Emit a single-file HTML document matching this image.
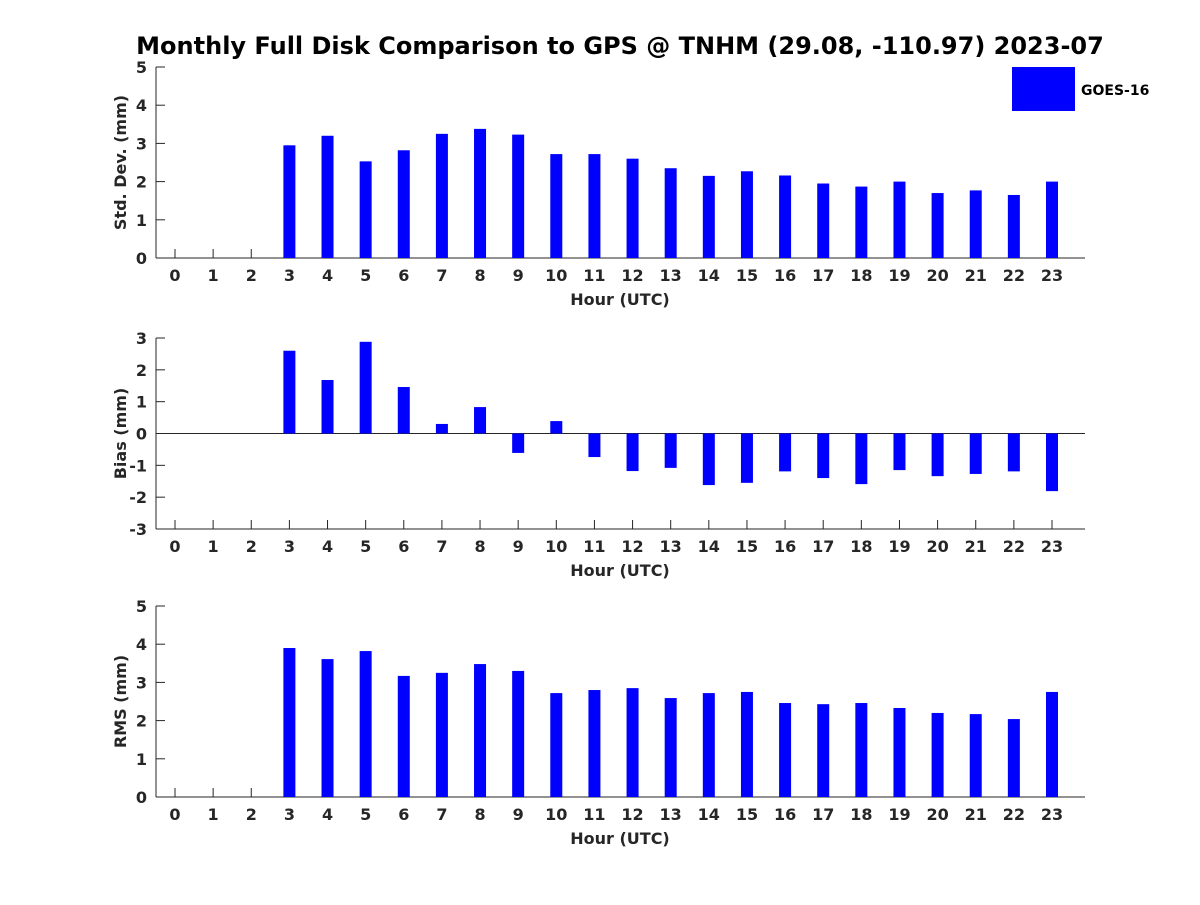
<!DOCTYPE html>
<html><head><meta charset="utf-8"><style>
body{margin:0;background:#fff}
svg text{font-family:"DejaVu Sans","Liberation Sans",sans-serif;font-weight:bold;fill:#262626}
</style></head><body>
<svg id="c" width="1200" height="900" xmlns="http://www.w3.org/2000/svg">
<text x="620" y="54" text-anchor="middle" font-size="24" style="fill:#000">Monthly Full Disk Comparison to GPS @ TNHM (29.08, -110.97) 2023-07</text>
<rect x="1012" y="67" width="63" height="44" fill="#0000ff"/>
<text x="1081" y="95" font-size="14" style="fill:#000">GOES-16</text>
</svg>
<script>
const hours=[0,1,2,3,4,5,6,7,8,9,10,11,12,13,14,15,16,17,18,19,20,21,22,23];
const stdVals=[null,null,null,2.95,3.2,2.53,2.82,3.25,3.38,3.23,2.72,2.72,2.6,2.35,2.15,2.27,2.16,1.95,1.87,2.0,1.7,1.77,1.65,2.0];
const biasVals=[null,null,null,2.6,1.68,2.88,1.46,0.3,0.83,-0.61,0.39,-0.74,-1.18,-1.08,-1.62,-1.55,-1.19,-1.4,-1.59,-1.15,-1.34,-1.27,-1.19,-1.81];
const rmsVals=[null,null,null,3.9,3.61,3.82,3.17,3.25,3.48,3.3,2.72,2.8,2.85,2.59,2.72,2.75,2.46,2.43,2.46,2.33,2.2,2.17,2.04,2.75];
const stdTicks=[0,1,2,3,4,5];
const biasTicks=[-3,-2,-1,0,1,2,3];
const rmsTicks=[0,1,2,3,4,5];
const svg=document.getElementById('c');
const NS='http://www.w3.org/2000/svg';
function mk(t,a){const e=document.createElementNS(NS,t);for(const k in a)e.setAttribute(k,a[k]);svg.appendChild(e);return e;}
const x=h=>175+h*38.13;
function panel(name,vals,ticks,top,bottom,label){
  const lo=ticks[0],hi=ticks[ticks.length-1];
  const y=v=>bottom-(v-lo)/(hi-lo)*(bottom-top);
  const l=mk('line',{x1:156,y1:top,x2:156,y2:bottom,stroke:'#262626','stroke-width':1});
  
  
  const b=mk('line',{x1:156,y1:bottom,x2:1085,y2:bottom,stroke:'#262626','stroke-width':1});
  
  
  if(lo<0){const z=mk('line',{x1:156,y1:y(0),x2:1085,y2:y(0),stroke:'#262626','stroke-width':1});
    
    }
  ticks.forEach(t=>{
    const tk=mk('line',{x1:156,y1:y(t),x2:165,y2:y(t),stroke:'#262626'});
    
    
    const tx=mk('text',{x:147,y:y(t)+6,'text-anchor':'end','font-size':16});
    tx.textContent=t;
    
    
  });
  hours.forEach((h,i)=>{
    const tk=mk('line',{x1:x(h),y1:bottom-9,x2:x(h),y2:bottom,stroke:'#262626'});
    
    
    const tx=mk('text',{x:x(h),y:bottom+23,'text-anchor':'middle','font-size':16});
    tx.textContent=h;
    
    
    const v=vals[i];
    if(v!==null){
      const y0=y(lo<0?0:lo),y1=y(v);
      const r=mk('rect',{x:x(h)-6,y:Math.min(y0,y1),width:12,height:Math.abs(y0-y1),fill:'#0000ff'});
      
      
    }
  });
  const xl=mk('text',{x:620,y:bottom+47,'text-anchor':'middle','font-size':16});
  xl.textContent='Hour (UTC)';
  
  
  const cy=(top+bottom)/2;
  const yl=mk('text',{x:126,y:cy,'text-anchor':'middle','font-size':16,transform:'rotate(-90 126 '+cy+')'});
  yl.textContent=label;
  
  
}
panel('std-dev',stdVals,stdTicks,67,258,'Std. Dev. (mm)');
panel('bias',biasVals,biasTicks,338,529,'Bias (mm)');
panel('rms',rmsVals,rmsTicks,606,797,'RMS (mm)');
</script>
</body></html>
